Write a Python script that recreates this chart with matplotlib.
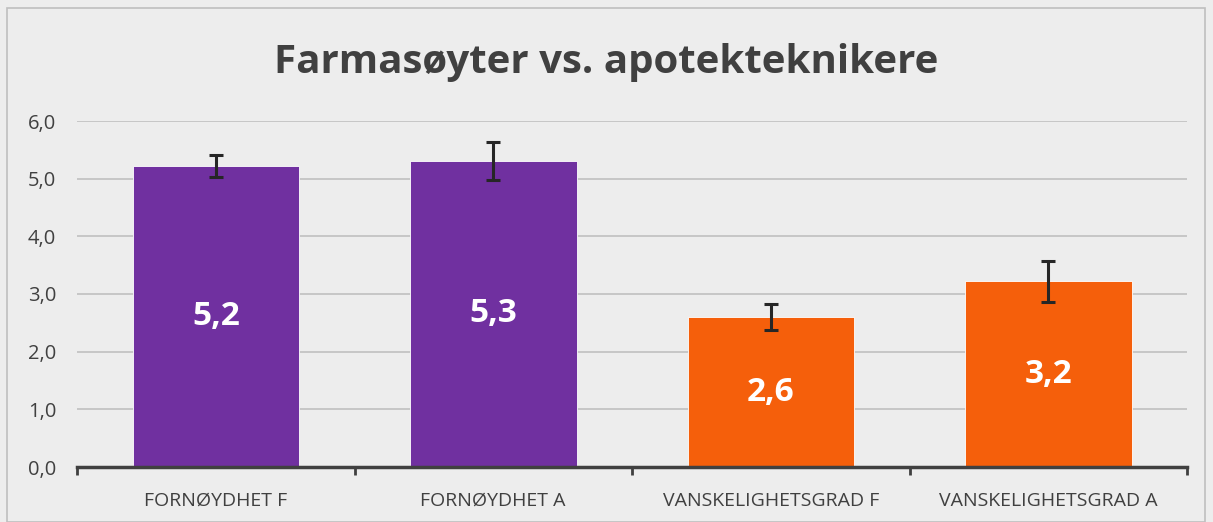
import matplotlib.pyplot as plt
from matplotlib.patches import Rectangle

categories = ['FORNØYDHET F', 'FORNØYDHET A', 'VANSKELIGHETSGRAD F', 'VANSKELIGHETSGRAD A']
values = [5.22, 5.31, 2.60, 3.22]
errors = [0.19, 0.33, 0.23, 0.36]
labels = ['5,2', '5,3', '2,6', '3,2']
colors = ['#7030A0', '#7030A0', '#F55F0B', '#F55F0B']
yticks = [0, 1, 2, 3, 4, 5, 6]

bg = '#EDEDED'
txt = '#404040'

fig = plt.figure(figsize=(12.13, 5.22), dpi=100)
fig.patch.set_facecolor(bg)
fig.patches.append(Rectangle((7 / 1213, 0), 1198 / 1213, 1 - 8 / 522, transform=fig.transFigure,
                             fill=False, edgecolor='#BFBFBF', linewidth=1.2))

ax = fig.add_axes([77 / 1213, 1 - 467 / 522, 1110 / 1213, 346 / 522])
ax.set_facecolor(bg)

x = range(len(categories))
ax.bar(x, values, width=0.6, color=colors, edgecolor='#FFFFFF', linewidth=0.6, zorder=2)
ax.errorbar(x, values, yerr=errors, fmt='none', ecolor='#262626', elinewidth=2.2,
            capsize=5, capthick=2.2, zorder=3)

for i, (v, lab) in enumerate(zip(values, labels)):
    ax.text(i, v / 2, lab, ha='center', va='center', color='white', fontsize=24,
            fontweight='bold', family='Open Sans', zorder=4)

ax.set_xlim(-0.5, len(categories) - 0.5)
ax.set_ylim(0, 6)
ax.set_yticks(yticks)
ax.set_yticklabels([f'{t},0' for t in yticks], fontsize=14.5, color=txt, family='Open Sans')
ax.yaxis.grid(True, color='#C4C4C4', linewidth=1.3, zorder=0)
ax.set_axisbelow(True)
ax.tick_params(axis='y', length=0, pad=15)

ax.set_xticks(x)
ax.set_xticklabels(categories, fontsize=14, color=txt, family='Open Sans')
ax.set_xticks([-0.5, 0.5, 1.5, 2.5, 3.5], minor=True)
ax.tick_params(axis='x', which='major', length=0, pad=18)
ax.tick_params(axis='x', which='minor', length=6, width=2, color='#404040', direction='out')

for s in ['top', 'right', 'left']:
    ax.spines[s].set_visible(False)
ax.spines['bottom'].set_color('#404040')
ax.spines['bottom'].set_linewidth(2.5)

fig.text(0.5, 1 - 62 / 522, 'Farmasøyter vs. apotekteknikere', ha='center', va='center',
         fontsize=29, fontweight='bold', color=txt, family='Open Sans')

fig.savefig('out.png', dpi=100, facecolor=bg)
